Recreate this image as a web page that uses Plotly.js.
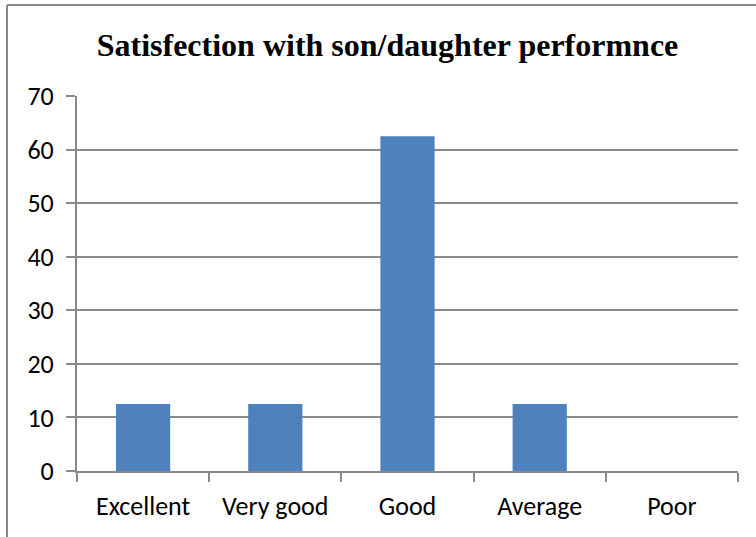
<!DOCTYPE html>
<html><head><meta charset="utf-8">
<script src="https://cdn.plot.ly/plotly-3.0.1.min.js"></script>
<style>html,body{margin:0;padding:0;background:#fff}#c{width:756px;height:537px}</style>
</head><body><div id="c"></div>
<script>
const categories = ["Excellent", "Very good", "Good", "Average", "Poor"];
const values = [12.5, 12.5, 62.5, 12.5, 0];
const yTicks = [0, 10, 20, 30, 40, 50, 60, 70];

const W = 756, H = 537, L = 77, R = 18, T = 96, B = 66;
const pw = W - L - R, ph = H - T - B;
const px = x => (x - L) / pw;
const py = y => 1 - (y - T) / ph;
const gray = "#898989";
const tickFont = {family: "Carlito, Open Sans, Liberation Sans, sans-serif", size: 26, color: "#000"};

Plotly.newPlot("c", [{
  type: "bar", x: categories, y: values,
  marker: {color: "#4F81BD", line: {width: 0}},
  hoverinfo: "none"
}], {
  width: W, height: H,
  margin: {l: L, r: R, t: T, b: B, pad: 0},
  paper_bgcolor: "#fff", plot_bgcolor: "#fff",
  bargap: 0.59,
  showlegend: false,
  title: {text: "<b>Satisfection with son/daughter performnce</b>",
    font: {family: "Liberation Serif, Times New Roman, serif", size: 32, color: "#000"},
    x: 387.5 / W, xanchor: "center", y: 1 - 45 / H, yanchor: "middle"},
  xaxis: {type: "category", tickson: "boundaries", ticks: "outside", ticklen: 9, tickwidth: 2, tickcolor: gray,
    showline: true, linecolor: gray, linewidth: 2, showgrid: false, zeroline: false,
    tickfont: tickFont, ticklabelstandoff: 11, fixedrange: true},
  yaxis: {range: [0, 70], tickvals: yTicks, ticktext: yTicks.map(String), ticks: "outside", ticklen: 9, tickwidth: 2, tickcolor: gray,
    showline: true, linecolor: gray, linewidth: 2, showgrid: true, gridcolor: gray, gridwidth: 2, zeroline: false,
    tickfont: tickFont, ticklabelstandoff: 7, fixedrange: true},
  shapes: [
    {type: "line", xref: "paper", yref: "paper", x0: px(7), x1: px(7), y0: py(5), y1: py(540), line: {color: gray, width: 2}},
    {type: "line", xref: "paper", yref: "paper", x0: px(7), x1: px(760), y0: py(5), y1: py(5), line: {color: gray, width: 2}}
  ]
}, {displayModeBar: false, staticPlot: true});
</script></body></html>
